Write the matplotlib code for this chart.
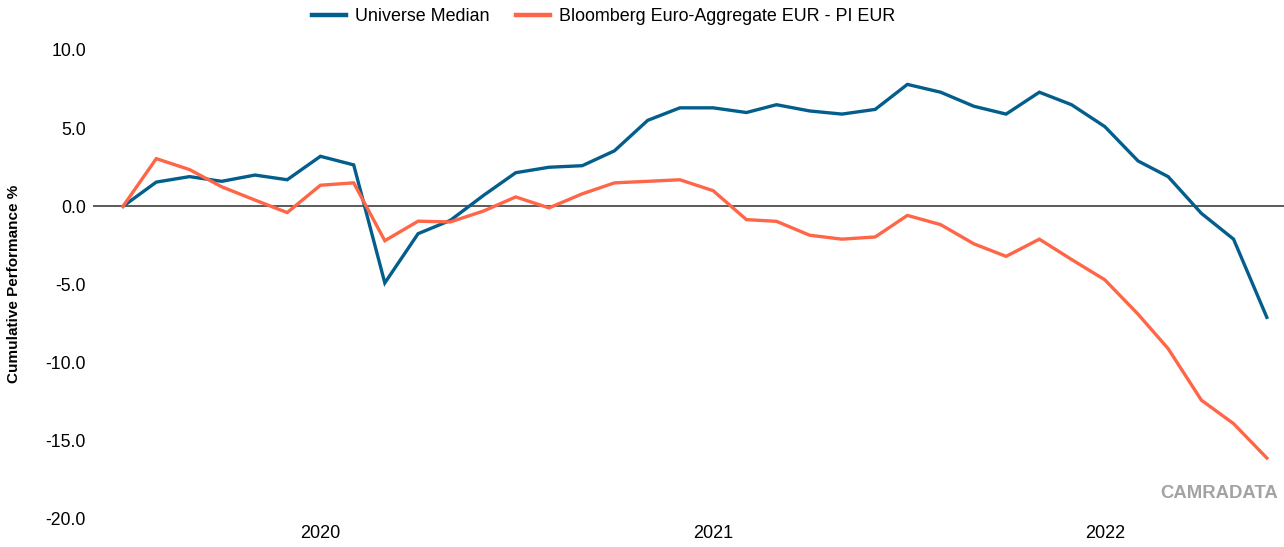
import pandas as pd
import matplotlib
matplotlib.use("Agg")
import matplotlib.pyplot as plt
import matplotlib.dates as mdates

# --- Data (monthly, Jul 2019 - Jun 2022) ---
months = pd.date_range("2019-07-01", "2022-06-01", freq="MS")

universe_median = [
    0.0, 1.55, 1.9, 1.6, 2.0, 1.7, 3.2, 2.65, -4.9, -1.75,
    -0.9, 0.7, 2.15, 2.5, 2.6, 3.55, 5.5, 6.3, 6.3, 6.0,
    6.5, 6.1, 5.9, 6.2, 7.8, 7.3, 6.4, 5.9, 7.3, 6.5,
    5.1, 2.9, 1.9, -0.45, -2.1, -7.1,
]
bloomberg_agg = [
    0.0, 3.05, 2.35, 1.25, 0.4, -0.4, 1.35, 1.5, -2.2, -0.95,
    -1.0, -0.3, 0.6, -0.1, 0.8, 1.5, 1.6, 1.7, 1.0, -0.85,
    -0.96, -1.85, -2.1, -1.96, -0.58, -1.17, -2.4, -3.2, -2.1, -3.4,
    -4.7, -6.9, -9.1, -12.4, -13.9, -16.1,
]

series_names = ["Universe Median", "Bloomberg Euro-Aggregate EUR - PI EUR"]
series_colors = ["#035E8C", "#FF6647"]

y_ticks = [10.0, 5.0, 0.0, -5.0, -10.0, -15.0, -20.0]
year_ticks = pd.to_datetime(["2020-01-01", "2021-01-01", "2022-01-01"])

font = "Liberation Sans"

# --- Figure & axes ---
fig = plt.figure(figsize=(12.84, 5.47), dpi=100)
ax = fig.add_axes([0.0724, 0.0512, 0.9276, 0.8574])

ax.axhline(0, color="#4d4d4d", linewidth=1.3, zorder=1)

for vals, name, col in zip([universe_median, bloomberg_agg], series_names, series_colors):
    ax.plot(months, vals, color=col, linewidth=2.4, label=name,
            solid_joinstyle="miter", zorder=3)

ax.set_ylim(-20, 10)
ax.set_xlim(months[0] - pd.Timedelta(days=28), months[-1] + pd.Timedelta(days=16))

ax.set_yticks(y_ticks)
ax.set_yticklabels([f"{v:.1f}" for v in y_ticks], family=font, fontsize=12.7)
ax.set_xticks(year_ticks)
ax.xaxis.set_major_formatter(mdates.DateFormatter("%Y"))
for lbl in ax.get_xticklabels():
    lbl.set_family(font)
    lbl.set_fontsize(13)

ax.tick_params(length=0)
ax.tick_params(axis="x", pad=4)
ax.tick_params(axis="y", pad=5)
for sp in ax.spines.values():
    sp.set_visible(False)

fig.text(0.011, 0.481, "Cumulative Performance %", rotation=90, ha="center",
         va="center", fontsize=11, fontweight="bold", family=font)

leg = fig.legend(loc="center", bbox_to_anchor=(0.470, 0.969), ncol=2, frameon=False,
                 prop={"family": font, "size": 12.9}, handlelength=1.9,
                 handletextpad=0.5, columnspacing=1.5)
for h in leg.get_lines():
    h.set_linewidth(3.2)

fig.text(0.995, 0.097, "CAMRADATA", ha="right", va="center", fontsize=13.3,
         fontweight="bold", color="#a3a3a3", family=font)

fig.savefig("out.png", dpi=100)
